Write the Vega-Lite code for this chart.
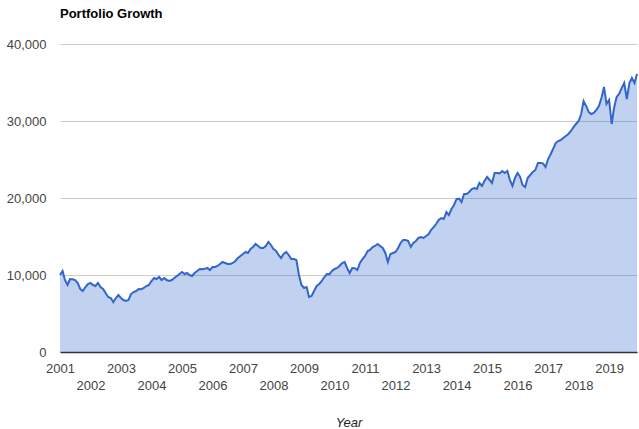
{
  "$schema": "https://vega.github.io/schema/vega-lite/v6.json",
  "autosize": "none",
  "width": 577,
  "height": 308,
  "padding": {"left": 60, "top": 44, "right": 2, "bottom": 77},
  "background": "white",
  "title": {"text": "Portfolio Growth", "anchor": "start", "frame": "group", "offset": 17, "font": "Arial", "fontSize": 13, "fontWeight": "bold", "color": "#000000"},
  "config": {"view": {"stroke": null}, "font": "Arial"},
  "data": {"values": [
    {"date":"2001-01","value":10000},{"date":"2001-02","value":10520},{"date":"2001-03","value":9350},{"date":"2001-04","value":8700},{"date":"2001-05","value":9480},{"date":"2001-06","value":9450},{"date":"2001-07","value":9350},{"date":"2001-08","value":8960},{"date":"2001-09","value":8180},{"date":"2001-10","value":7920},{"date":"2001-11","value":8440},{"date":"2001-12","value":8830},
    {"date":"2002-01","value":8960},{"date":"2002-02","value":8700},{"date":"2002-03","value":8570},{"date":"2002-04","value":8960},{"date":"2002-05","value":8440},{"date":"2002-06","value":8180},{"date":"2002-07","value":7660},{"date":"2002-08","value":7140},{"date":"2002-09","value":7010},{"date":"2002-10","value":6490},{"date":"2002-11","value":7010},{"date":"2002-12","value":7400},
    {"date":"2003-01","value":7010},{"date":"2003-02","value":6750},{"date":"2003-03","value":6620},{"date":"2003-04","value":6750},{"date":"2003-05","value":7530},{"date":"2003-06","value":7790},{"date":"2003-07","value":7920},{"date":"2003-08","value":8180},{"date":"2003-09","value":8150},{"date":"2003-10","value":8310},{"date":"2003-11","value":8570},{"date":"2003-12","value":8700},
    {"date":"2004-01","value":9220},{"date":"2004-02","value":9610},{"date":"2004-03","value":9480},{"date":"2004-04","value":9740},{"date":"2004-05","value":9350},{"date":"2004-06","value":9610},{"date":"2004-07","value":9350},{"date":"2004-08","value":9220},{"date":"2004-09","value":9350},{"date":"2004-10","value":9610},{"date":"2004-11","value":9870},{"date":"2004-12","value":10130},
    {"date":"2005-01","value":10390},{"date":"2005-02","value":10130},{"date":"2005-03","value":10260},{"date":"2005-04","value":10000},{"date":"2005-05","value":9870},{"date":"2005-06","value":10260},{"date":"2005-07","value":10520},{"date":"2005-08","value":10780},{"date":"2005-09","value":10750},{"date":"2005-10","value":10800},{"date":"2005-11","value":10910},{"date":"2005-12","value":10650},
    {"date":"2006-01","value":11040},{"date":"2006-02","value":11040},{"date":"2006-03","value":11170},{"date":"2006-04","value":11430},{"date":"2006-05","value":11690},{"date":"2006-06","value":11560},{"date":"2006-07","value":11430},{"date":"2006-08","value":11430},{"date":"2006-09","value":11560},{"date":"2006-10","value":11820},{"date":"2006-11","value":12210},{"date":"2006-12","value":12470},
    {"date":"2007-01","value":12730},{"date":"2007-02","value":12990},{"date":"2007-03","value":12860},{"date":"2007-04","value":13380},{"date":"2007-05","value":13640},{"date":"2007-06","value":14030},{"date":"2007-07","value":13770},{"date":"2007-08","value":13510},{"date":"2007-09","value":13510},{"date":"2007-10","value":13770},{"date":"2007-11","value":14290},{"date":"2007-12","value":13900},
    {"date":"2008-01","value":13380},{"date":"2008-02","value":13120},{"date":"2008-03","value":12600},{"date":"2008-04","value":12210},{"date":"2008-05","value":12730},{"date":"2008-06","value":12990},{"date":"2008-07","value":12600},{"date":"2008-08","value":12080},{"date":"2008-09","value":12080},{"date":"2008-10","value":11950},{"date":"2008-11","value":10000},{"date":"2008-12","value":8700},
    {"date":"2009-01","value":8310},{"date":"2009-02","value":8440},{"date":"2009-03","value":7140},{"date":"2009-04","value":7270},{"date":"2009-05","value":7920},{"date":"2009-06","value":8570},{"date":"2009-07","value":8830},{"date":"2009-08","value":9220},{"date":"2009-09","value":9740},{"date":"2009-10","value":10130},{"date":"2009-11","value":10100},{"date":"2009-12","value":10520},
    {"date":"2010-01","value":10780},{"date":"2010-02","value":10910},{"date":"2010-03","value":11170},{"date":"2010-04","value":11560},{"date":"2010-05","value":11690},{"date":"2010-06","value":10910},{"date":"2010-07","value":10260},{"date":"2010-08","value":10910},{"date":"2010-09","value":10880},{"date":"2010-10","value":10650},{"date":"2010-11","value":11560},{"date":"2010-12","value":12080},
    {"date":"2011-01","value":12470},{"date":"2011-02","value":13120},{"date":"2011-03","value":13250},{"date":"2011-04","value":13640},{"date":"2011-05","value":13770},{"date":"2011-06","value":14030},{"date":"2011-07","value":13770},{"date":"2011-08","value":13510},{"date":"2011-09","value":12860},{"date":"2011-10","value":11690},{"date":"2011-11","value":12730},{"date":"2011-12","value":12860},
    {"date":"2012-01","value":12990},{"date":"2012-02","value":13510},{"date":"2012-03","value":14160},{"date":"2012-04","value":14550},{"date":"2012-05","value":14550},{"date":"2012-06","value":14420},{"date":"2012-07","value":13640},{"date":"2012-08","value":14160},{"date":"2012-09","value":14420},{"date":"2012-10","value":14810},{"date":"2012-11","value":14940},{"date":"2012-12","value":14810},
    {"date":"2013-01","value":15060},{"date":"2013-02","value":15320},{"date":"2013-03","value":15840},{"date":"2013-04","value":16230},{"date":"2013-05","value":16620},{"date":"2013-06","value":17140},{"date":"2013-07","value":17400},{"date":"2013-08","value":17270},{"date":"2013-09","value":18180},{"date":"2013-10","value":17790},{"date":"2013-11","value":18570},{"date":"2013-12","value":19090},
    {"date":"2014-01","value":19870},{"date":"2014-02","value":19900},{"date":"2014-03","value":19480},{"date":"2014-04","value":20520},{"date":"2014-05","value":20520},{"date":"2014-06","value":20780},{"date":"2014-07","value":21170},{"date":"2014-08","value":21300},{"date":"2014-09","value":21170},{"date":"2014-10","value":21950},{"date":"2014-11","value":21560},{"date":"2014-12","value":22210},
    {"date":"2015-01","value":22730},{"date":"2015-02","value":22340},{"date":"2015-03","value":21950},{"date":"2015-04","value":23250},{"date":"2015-05","value":23250},{"date":"2015-06","value":23200},{"date":"2015-07","value":23510},{"date":"2015-08","value":23250},{"date":"2015-09","value":23510},{"date":"2015-10","value":22340},{"date":"2015-11","value":21560},{"date":"2015-12","value":22600},
    {"date":"2016-01","value":23250},{"date":"2016-02","value":22730},{"date":"2016-03","value":21690},{"date":"2016-04","value":21430},{"date":"2016-05","value":22600},{"date":"2016-06","value":22990},{"date":"2016-07","value":23380},{"date":"2016-08","value":23640},{"date":"2016-09","value":24550},{"date":"2016-10","value":24550},{"date":"2016-11","value":24500},{"date":"2016-12","value":24030},
    {"date":"2017-01","value":25060},{"date":"2017-02","value":25710},{"date":"2017-03","value":26360},{"date":"2017-04","value":27140},{"date":"2017-05","value":27400},{"date":"2017-06","value":27530},{"date":"2017-07","value":27790},{"date":"2017-08","value":28050},{"date":"2017-09","value":28310},{"date":"2017-10","value":28700},{"date":"2017-11","value":29220},{"date":"2017-12","value":29610},
    {"date":"2018-01","value":30000},{"date":"2018-02","value":30910},{"date":"2018-03","value":32600},{"date":"2018-04","value":31950},{"date":"2018-05","value":31170},{"date":"2018-06","value":30910},{"date":"2018-07","value":31040},{"date":"2018-08","value":31430},{"date":"2018-09","value":31950},{"date":"2018-10","value":32990},{"date":"2018-11","value":34420},{"date":"2018-12","value":32210},
    {"date":"2019-01","value":32730},{"date":"2019-02","value":29610},{"date":"2019-03","value":31690},{"date":"2019-04","value":33120},{"date":"2019-05","value":33510},{"date":"2019-06","value":34290},{"date":"2019-07","value":34930},{"date":"2019-08","value":32860},{"date":"2019-09","value":34930},{"date":"2019-10","value":35580},{"date":"2019-11","value":34930},{"date":"2019-12","value":36100}
  ]},
  "encoding": {
    "x": {
      "field": "date", "type": "temporal",
      "scale": {"type": "utc", "domain": ["2001-01", "2019-12"]},
      "axis": {
        "title": "Year", "titleFont": "Arial", "titleFontSize": 13, "titleFontStyle": "italic", "titleFontWeight": "normal", "titleColor": "#222222", "titlePadding": 24,
        "format": "%Y", "tickCount": {"interval": "year", "step": 1},
        "labelFont": "Arial", "labelFontSize": 13, "labelColor": "#444444",
        "labelOverlap": false, "labelFlush": false, "labelBound": false,
        "labelPadding": {"condition": {"test": "utcyear(datum.value) % 2 == 0", "value": 27}, "value": 10},
        "ticks": false, "grid": false, "domain": true, "domainColor": "#333333", "domainWidth": 1.5
      }
    },
    "y": {
      "field": "value", "type": "quantitative",
      "scale": {"domain": [0, 40000], "nice": false},
      "axis": {
        "title": null, "values": [0, 10000, 20000, 30000, 40000], "format": ",d",
        "labelFont": "Arial", "labelFontSize": 13, "labelColor": "#444444", "labelPadding": 14,
        "ticks": false, "domain": false, "grid": true, "gridColor": "#cccccc"
      }
    }
  },
  "layer": [
    {"mark": {"type": "area", "color": "#3366cc", "fillOpacity": 0.3, "opacity": 1}},
    {"mark": {"type": "line", "color": "#3366cc", "strokeWidth": 2}}
  ]
}
